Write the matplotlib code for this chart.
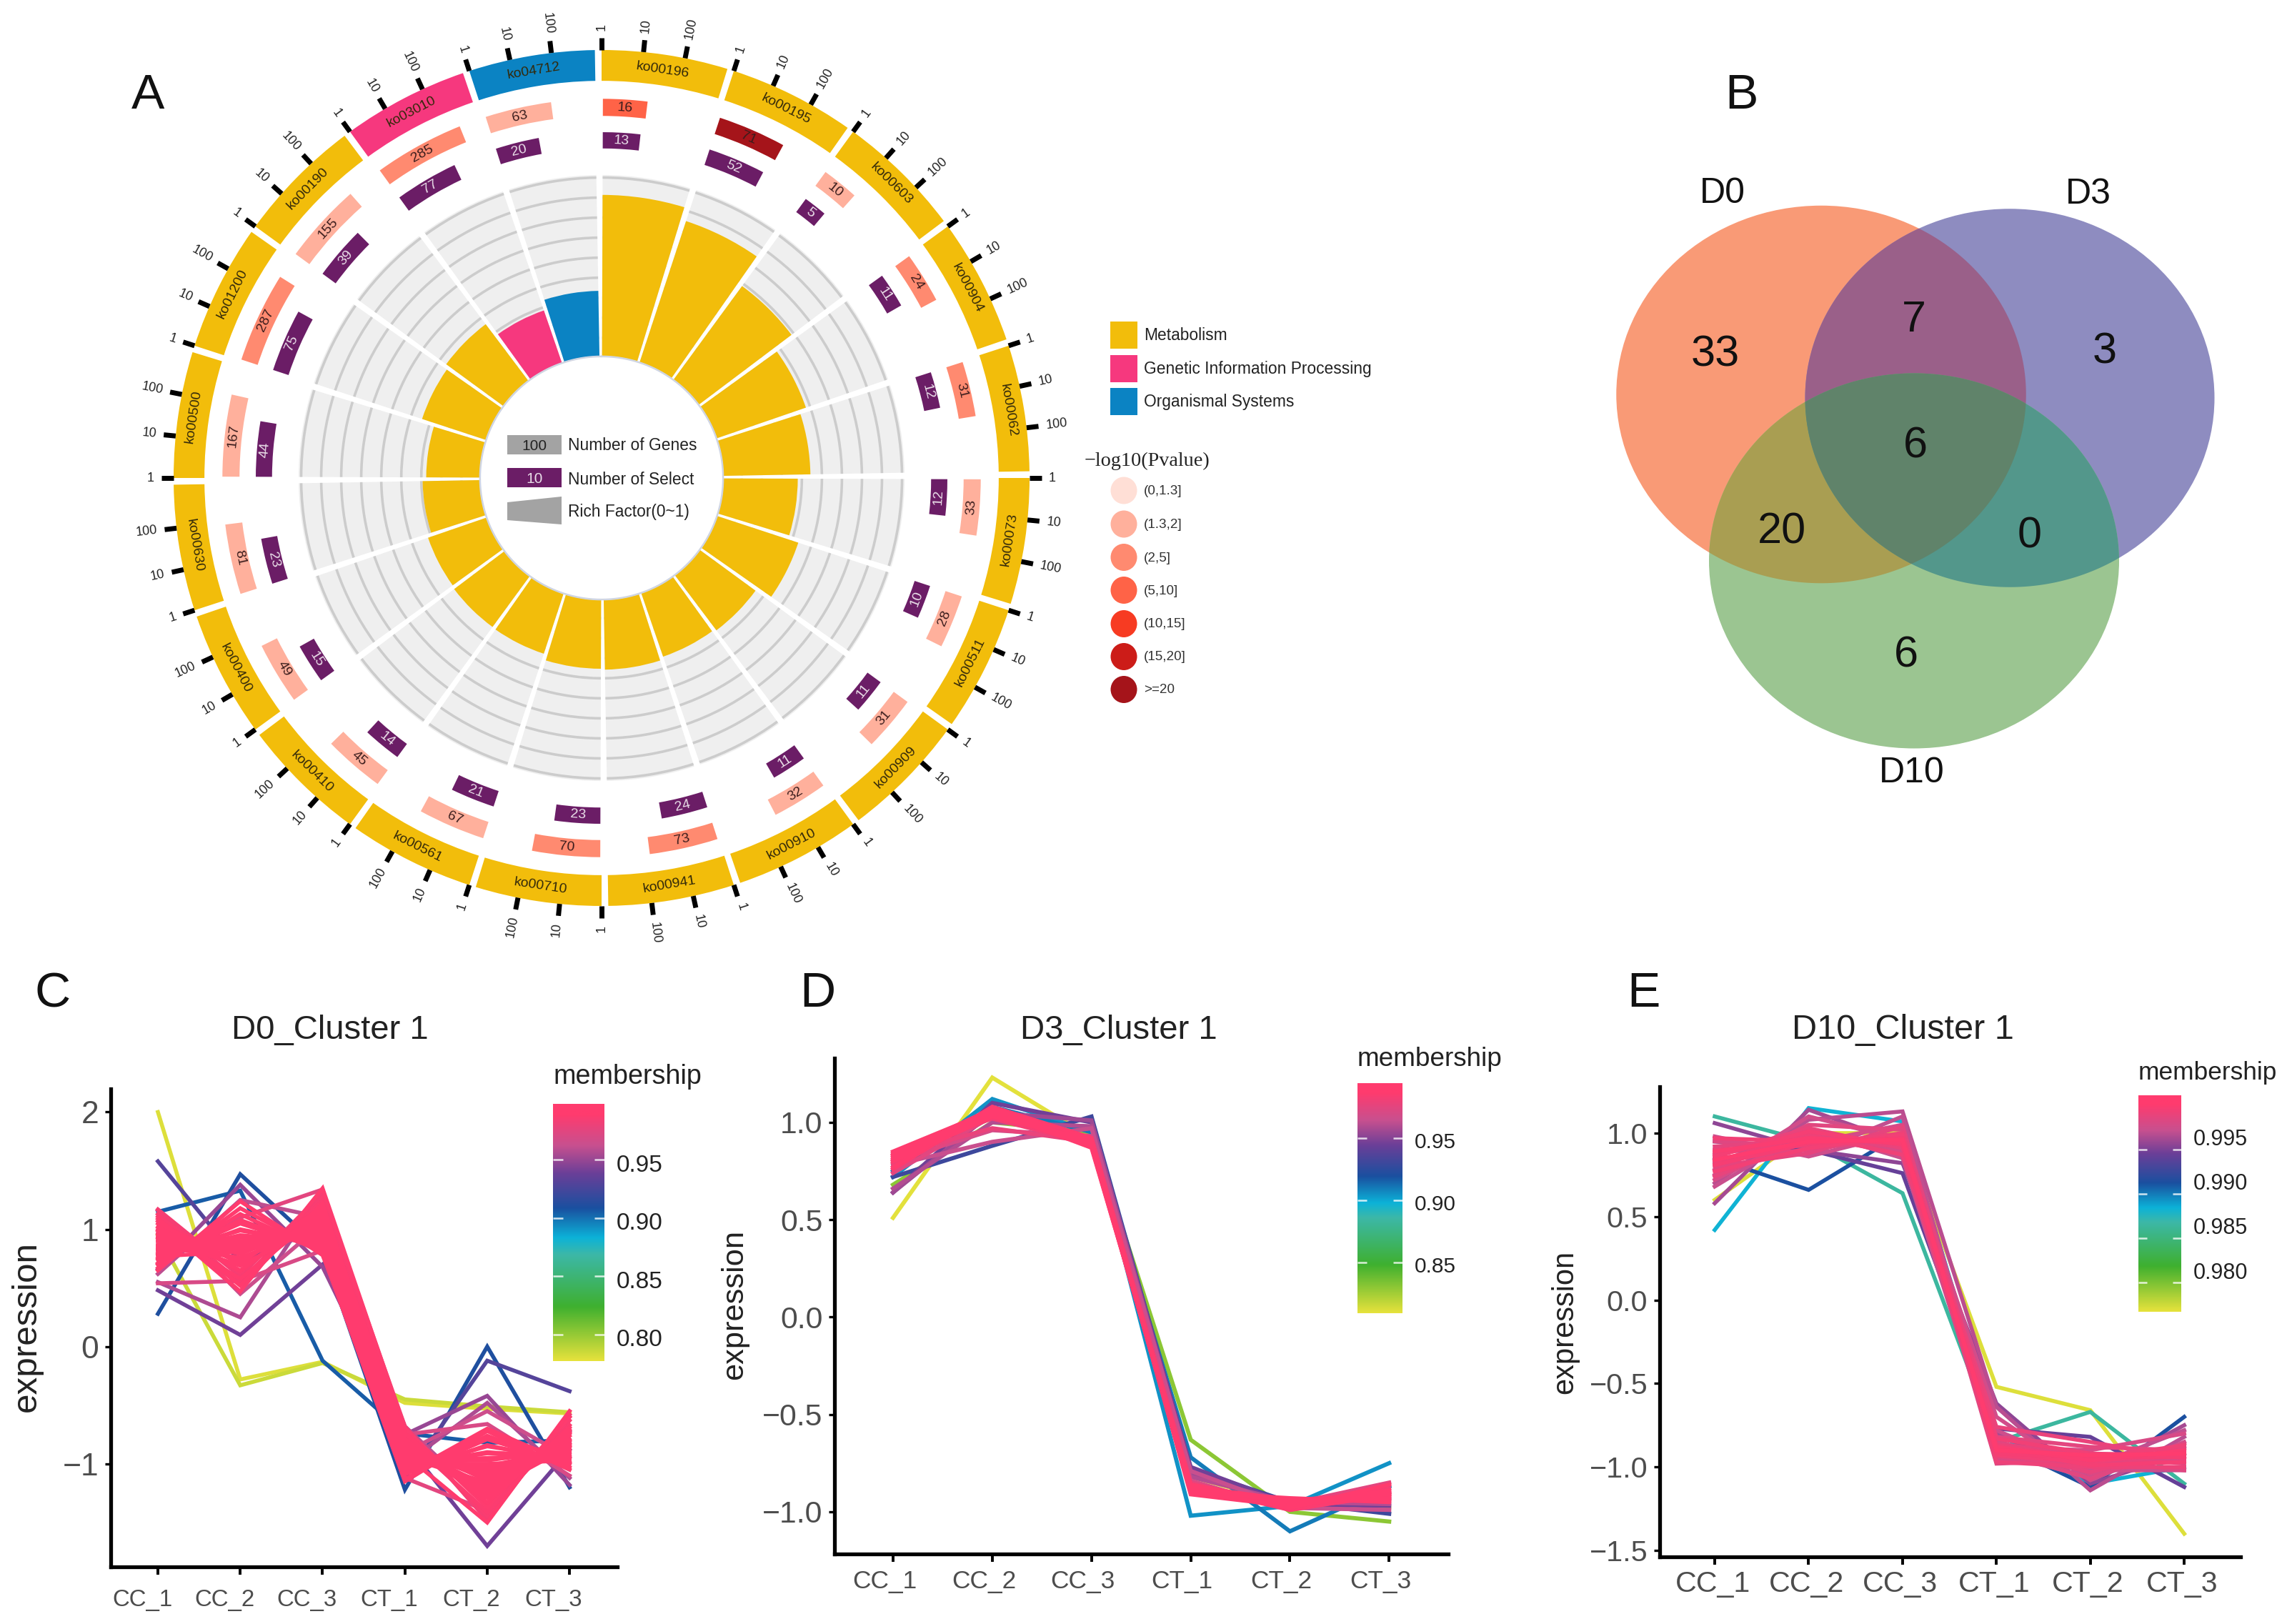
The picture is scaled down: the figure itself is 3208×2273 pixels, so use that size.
import numpy as np
import matplotlib
matplotlib.use("Agg")
import matplotlib.pyplot as plt
from matplotlib.colors import LinearSegmentedColormap, Normalize
from matplotlib.patches import Ellipse, Polygon, Rectangle
from matplotlib.transforms import ScaledTranslation

plt.rcParams["font.family"] = ["Liberation Sans", "DejaVu Sans"]

W, H = 3208, 2273
DPI = 200

# ---- panel A data
pathways = ["ko00196", "ko00195", "ko00603", "ko00904", "ko00062",
            "ko00073", "ko00511", "ko00909", "ko00910", "ko00941",
            "ko00710", "ko00561", "ko00410", "ko00400", "ko00630",
            "ko00500", "ko01200", "ko00190", "ko03010", "ko04712"]
groups = [0] * 18 + [1, 2]
genes = [16, 71, 10, 24, 31, 33, 28, 31, 32, 73,
         70, 67, 45, 49, 81, 167, 287, 155, 285, 63]
selected = [13, 52, 5, 11, 12, 12, 10, 11, 11, 24,
            23, 21, 14, 15, 23, 44, 75, 39, 77, 20]
pvalue_class = [3, 6, 1, 2, 2, 1, 1, 1, 1, 2,
                2, 1, 1, 1, 1, 1, 2, 1, 2, 1]
rich_factor = [0.89, 0.82, 0.64, 0.52, 0.48, 0.41, 0.47, 0.38, 0.37, 0.385,
               0.38, 0.348, 0.346, 0.34, 0.315, 0.295, 0.37, 0.39, 0.305, 0.36]
group_names = ["Metabolism", "Genetic Information Processing", "Organismal Systems"]
group_colors = ["#f2bd0b", "#f6387e", "#0b83c3"]
pvalue_labels = ["(0,1.3]", "(1.3,2]", "(2,5]", "(5,10]", "(10,15]", "(15,20]", ">=20"]
pvalue_colors = ["#ffdfd6", "#ffb09c", "#ff8a70", "#ff6347", "#f73b22", "#cc1c18", "#a5141a"]

# ---- panel B data
venn_names = ["D0", "D3", "D10"]
venn_counts = [33, 7, 3, 6, 20, 0, 6]

# ---- panels C, D, E data
samples = ["CC_1", "CC_2", "CC_3", "CT_1", "CT_2", "CT_3"]

d0_members = [0.78, 0.785, 0.905, 0.91, 0.93, 0.94, 0.95, 0.955, 0.96, 0.965, 0.97, 0.975,
              0.985, 0.986, 0.987, 0.988, 0.989, 0.99, 0.99, 0.991, 0.991, 0.992,
              0.992, 0.993, 0.993, 0.994, 0.994, 0.995, 0.995, 0.995, 0.996, 0.996,
              0.996, 0.996, 0.997, 0.997, 0.997, 0.997, 0.997, 0.998, 0.998, 0.998]
d0_lines = [
    [2.00, -0.28, -0.13, -0.48, -0.53, -0.57],
    [0.95, -0.33, -0.14, -0.45, -0.51, -0.56],
    [1.15, 1.33, -0.12, -0.74, -0.82, -0.80],
    [0.28, 1.47, 0.82, -1.22, 0.00, -1.20],
    [1.58, 0.72, 1.02, -1.12, -0.12, -0.38],
    [0.48, 0.10, 0.70, -0.82, -1.70, -0.88],
    [0.66, 1.38, 0.68, -0.75, -0.42, -1.18],
    [0.55, 0.25, 1.32, -1.00, -0.48, -1.12],
    [0.62, 1.25, 1.10, -0.68, -1.34, -0.72],
    [1.16, 0.45, 1.05, -0.90, -0.55, -0.95],
    [0.54, 0.56, 0.82, -0.75, -0.66, -1.10],
    [0.70, 1.10, 1.34, -1.12, -1.40, -0.60],
    [1.17, 0.60, 1.31, -0.68, -1.48, -0.58],
    [1.13, 0.55, 1.27, -0.73, -1.44, -0.63],
    [1.11, 0.63, 1.24, -0.77, -1.41, -0.67],
    [1.07, 0.47, 1.35, -0.70, -1.37, -0.60],
    [1.05, 0.71, 1.19, -0.83, -1.29, -0.71],
    [1.02, 0.65, 1.16, -0.79, -1.26, -0.73],
    [1.00, 0.73, 1.11, -0.86, -1.21, -0.76],
    [0.97, 0.74, 1.09, -0.85, -1.19, -0.74],
    [0.96, 0.79, 1.07, -0.83, -1.14, -0.79],
    [0.94, 0.80, 1.04, -0.89, -1.11, -0.80],
    [0.91, 0.83, 1.03, -0.90, -1.09, -0.83],
    [0.90, 0.85, 0.99, -0.93, -1.04, -0.84],
    [0.87, 0.86, 0.97, -0.95, -1.02, -0.87],
    [0.86, 0.89, 0.96, -0.97, -0.97, -0.88],
    [0.83, 0.90, 0.93, -0.98, -0.95, -0.91],
    [0.82, 0.93, 0.92, -1.01, -0.91, -0.92],
    [0.79, 0.95, 0.89, -1.02, -0.90, -0.95],
    [0.78, 0.99, 0.87, -1.05, -0.85, -0.96],
    [0.75, 1.00, 0.86, -1.08, -0.84, -0.99],
    [0.74, 1.05, 0.83, -1.09, -0.79, -1.00],
    [0.71, 1.08, 0.82, -1.13, -0.76, -1.03],
    [0.70, 1.13, 0.80, -1.15, -0.72, -1.05],
    [0.67, 1.18, 0.81, -1.09, -0.70, -1.00],
    [0.65, 1.24, 0.78, -1.04, -0.78, -0.94],
    [1.09, 0.52, 1.22, -0.92, -1.50, -0.55],
    [0.99, 0.58, 1.14, -0.74, -1.33, -0.69],
    [0.93, 0.69, 1.06, -0.81, -1.23, -0.85],
    [0.85, 0.76, 1.01, -0.94, -1.16, -0.82],
    [0.81, 0.87, 0.94, -0.87, -1.06, -0.90],
    [0.77, 0.81, 0.98, -1.00, -1.00, -0.97],
]

d3_members = [0.81, 0.83, 0.905, 0.91, 0.93, 0.945, 0.955, 0.96, 0.965, 0.97,
              0.975, 0.978, 0.98, 0.983, 0.985, 0.987, 0.989, 0.99, 0.992, 0.993, 0.994]
d3_lines = [
    [0.51, 1.23, 0.92, -0.82, -0.96, -0.98],
    [0.68, 1.00, 0.95, -0.63, -1.00, -1.05],
    [0.72, 1.12, 0.95, -1.02, -0.97, -0.75],
    [0.75, 1.08, 0.95, -0.72, -1.10, -0.87],
    [0.72, 0.88, 1.03, -0.78, -0.95, -1.01],
    [0.64, 1.10, 1.00, -0.77, -0.96, -0.97],
    [0.64, 1.05, 1.01, -0.80, -0.97, -0.93],
    [0.66, 1.00, 0.98, -0.82, -0.95, -0.96],
    [0.78, 0.90, 0.97, -0.79, -0.98, -0.99],
    [0.80, 0.96, 0.93, -0.84, -0.99, -0.90],
    [0.74, 1.03, 0.92, -0.86, -0.96, -0.85],
    [0.83, 0.97, 0.90, -0.85, -0.98, -0.92],
    [0.79, 1.06, 0.91, -0.88, -0.94, -0.94],
    [0.84, 1.02, 0.89, -0.89, -0.97, -0.88],
    [0.76, 1.07, 0.88, -0.87, -0.99, -0.91],
    [0.81, 1.04, 0.90, -0.90, -0.93, -0.95],
    [0.85, 1.06, 0.87, -0.86, -0.96, -0.89],
    [0.77, 1.08, 0.92, -0.89, -0.98, -0.86],
    [0.82, 1.05, 0.88, -0.88, -0.95, -0.93],
    [0.80, 1.03, 0.91, -0.91, -0.97, -0.90],
    [0.83, 1.07, 0.89, -0.87, -0.94, -0.91],
]

d10_members = [0.977, 0.9865, 0.9883, 0.9912, 0.9943, 0.9955, 0.9962, 0.9968, 0.997, 0.9972,
               0.9974, 0.9976, 0.9978, 0.998, 0.9982, 0.9984, 0.9985, 0.9986, 0.9987, 0.9988,
               0.9989, 0.999, 0.9991, 0.9992, 0.9993, 0.9994, 0.9995, 0.9996, 0.9998, 1.0]
d10_lines = [
    [0.60, 1.00, 1.00, -0.52, -0.66, -1.40],
    [1.10, 0.95, 0.64, -0.85, -0.67, -1.10],
    [0.42, 1.15, 1.07, -0.80, -1.10, -1.00],
    [0.85, 0.66, 1.00, -0.85, -1.12, -0.70],
    [0.95, 0.90, 0.76, -0.77, -0.82, -1.12],
    [1.06, 0.90, 0.82, -0.62, -1.10, -0.92],
    [0.58, 1.14, 0.94, -0.80, -1.05, -0.75],
    [0.70, 1.08, 1.13, -0.64, -1.14, -0.82],
    [0.90, 0.87, 1.10, -0.85, -1.00, -0.78],
    [0.68, 1.02, 0.85, -0.92, -1.06, -0.88],
    [0.98, 0.86, 1.00, -0.78, -1.02, -1.02],
    [0.75, 1.10, 0.96, -0.70, -1.08, -0.85],
    [0.82, 0.94, 1.05, -0.96, -0.94, -0.96],
    [0.72, 1.00, 0.90, -0.88, -0.90, -0.80],
    [0.88, 0.98, 0.88, -0.84, -1.04, -0.94],
    [0.95, 0.92, 0.94, -0.98, -0.96, -1.02],
    [0.78, 1.05, 1.02, -0.90, -1.07, -0.86],
    [0.85, 0.90, 0.98, -0.82, -0.88, -0.90],
    [0.92, 0.96, 0.92, -0.94, -0.98, -0.92],
    [0.80, 0.88, 1.04, -0.86, -0.93, -0.98],
    [0.74, 0.97, 0.96, -0.91, -1.03, -0.89],
    [0.87, 1.03, 0.91, -0.76, -0.85, -0.95],
    [0.90, 0.93, 1.00, -0.97, -1.00, -1.00],
    [0.83, 0.99, 0.87, -0.87, -0.95, -0.87],
    [0.97, 0.95, 0.95, -0.83, -0.92, -0.93],
    [0.77, 0.91, 0.99, -0.93, -0.97, -0.91],
    [0.86, 1.01, 0.93, -0.89, -0.99, -0.97],
    [0.81, 0.94, 0.97, -0.92, -0.94, -0.94],
    [0.89, 0.97, 0.94, -0.88, -0.96, -0.90],
    [0.84, 0.95, 0.96, -0.90, -0.93, -0.92],
]

# colours of the membership scale, low to high
member_cmap = LinearSegmentedColormap.from_list("membership", [
    (0.00, "#e6e23c"), (0.21, "#3fb02f"), (0.415, "#3cb8a8"), (0.48, "#0cb2d8"),
    (0.595, "#1a50a0"), (0.73, "#6a3f98"), (0.84, "#c8508f"), (0.96, "#ff3b6e"),
    (1.00, "#ff3b6e")])


def px_rect(x0, y0, x1, y1):
    return [x0 / W, 1 - y1 / H, (x1 - x0) / W, (y1 - y0) / H]


fig = plt.figure(figsize=(W / DPI, H / DPI), dpi=DPI)

# ---- panel A, circular plot
cx, cy, R = 842, 669, 599
scale = 1.1
polar = fig.add_axes(px_rect(cx - R * scale, cy - R * scale, cx + R * scale, cy + R * scale),
                     projection="polar")
polar.set_theta_zero_location("N")
polar.set_theta_direction(-1)
polar.set_ylim(0, scale)
polar.axis("off")

STEP = 18.0
SECTOR = 17.1
INNER = 16.8
DECADE = 5.63


def upright(theta):
    return -theta if (theta < 90 or theta > 270) else 180 - theta


for i, name in enumerate(pathways):
    start = i * STEP
    t0 = np.radians(start)
    col = group_colors[groups[i]]
    # outer ring
    polar.bar(t0, 0.072, width=np.radians(SECTOR), bottom=0.928, align="edge", color=col, lw=0)
    mid = start + SECTOR / 2
    polar.text(np.radians(mid), 0.964, name, fontsize=7, color="#33290a", ha="center", va="center",
               rotation=upright(mid), rotation_mode="anchor")
    # log scale ticks
    for k, lab in enumerate(["1", "10", "100"]):
        a = start + k * DECADE
        polar.plot([np.radians(a)] * 2, [1.0, 1.028], color="black", lw=2.5, solid_capstyle="butt")
        if a < 180:
            rot, ha = 90 - a, "left"
        else:
            rot, ha = 270 - a, "right"
        polar.text(np.radians(a), 1.045, lab, fontsize=6.5, color="#222222", ha=ha, va="center",
                   rotation=rot, rotation_mode="anchor")
    # number of genes
    w = np.log10(genes[i]) * DECADE
    polar.bar(np.radians(start + 0.2), 0.04, width=np.radians(w), bottom=0.846, align="edge",
              color=pvalue_colors[pvalue_class[i]], lw=0)
    a = start + 0.2 + w / 2
    polar.text(np.radians(a), 0.866, str(genes[i]), fontsize=7, color="#3a1d1d", ha="center", va="center",
               rotation=upright(a), rotation_mode="anchor")
    # number of selected
    w = np.log10(selected[i]) * DECADE
    polar.bar(np.radians(start + 0.2), 0.038, width=np.radians(w), bottom=0.77, align="edge",
              color="#6b1d66", lw=0)
    a = start + 0.2 + w / 2
    polar.text(np.radians(a), 0.789, str(selected[i]), fontsize=7, color="#eadfe9", ha="center", va="center",
               rotation=upright(a), rotation_mode="anchor")
    # grey background with rings
    t1 = np.radians(start + 0.2)
    wid = np.radians(INNER)
    polar.bar(t1, 0.423, width=wid, bottom=0.285, align="edge", color="#efefef", lw=0)
    for r in np.arange(0.705, 0.30, -0.0468):
        polar.bar(t1, 0.006, width=wid, bottom=r - 0.006, align="edge", color="#cccccc", lw=0)
    # rich factor
    polar.bar(t1, rich_factor[i] * 0.423, width=wid, bottom=0.285, align="edge", color=col, lw=0)

# thin edge of the centre hole
polar.plot(np.linspace(0, 2 * np.pi, 361), np.full(361, 0.284), color="#cfd5e2", lw=0.9)

# ---- page overlay in pixel coordinates
pg = fig.add_axes([0, 0, 1, 1], zorder=5)
pg.set_xlim(0, W)
pg.set_ylim(H, 0)
pg.axis("off")
pg.patch.set_alpha(0)

for lab, x, y in [("A", 207, 134), ("B", 2437, 134), ("C", 74, 1391), ("D", 1144, 1391), ("E", 2300, 1391)]:
    pg.text(x, y, lab, fontsize=25, ha="center", va="center", color="#111111")

# legend in the middle of the circle
pg.add_patch(Rectangle((710, 609), 76, 27, color="#a3a3a3", lw=0))
pg.text(748, 624, "100", fontsize=7.5, ha="center", va="center", color="#222222")
pg.add_patch(Rectangle((710, 655), 76, 27, color="#6b1d66", lw=0))
pg.text(748, 670, "10", fontsize=7.5, ha="center", va="center", color="#e8dde8")
pg.add_patch(Polygon([(710, 703), (786, 695), (786, 734), (710, 728)], color="#a3a3a3", lw=0))
for lab, y in [("Number of Genes", 624), ("Number of Select", 671), ("Rich Factor(0~1)", 717)]:
    pg.text(795, y, lab, fontsize=8.2, va="center", color="#222222")

# legends on the right of the circle
for name, col, y0 in zip(group_names, group_colors, [450, 497, 543]):
    pg.add_patch(Rectangle((1554, y0), 38, 38, color=col, lw=0))
    pg.text(1601, y0 + 20, name, fontsize=8.2, va="center", color="#222222")
pg.text(1518, 645, "\u2212log10(Pvalue)", fontsize=10.2, va="center", family="Liberation Serif", color="#222222")
for lab, col, y in zip(pvalue_labels, pvalue_colors, [686.5, 733.5, 780, 826, 873, 919, 965]):
    pg.add_patch(Ellipse((1573, y), 37, 38, color=col, lw=0))
    pg.text(1601, y + 1, lab, fontsize=6.8, va="center", color="#333333")

# ---- panel B, venn diagram
venn_shapes = [(2549, 552, 573.5, 528.5), (2813, 557, 573, 529.5), (2679, 785, 574, 525)]
venn_fill = {(0,): "#f99a76", (1,): "#8e8cc0", (2,): "#9bc591",
             (0, 1): "#9a6089", (0, 2): "#a99e52", (1, 2): "#53978b", (0, 1, 2): "#60836a"}


def inside(shape, x, y):
    ex, ey, ew, eh = shape
    return ((x - ex) / (ew / 2)) ** 2 + ((y - ey) / (eh / 2)) ** 2 <= 1.0001


def overlap(ids):
    # outline of the (convex) overlap of some ellipses
    t = np.linspace(0, 2 * np.pi, 1500)
    xs, ys = [], []
    for i in ids:
        ex, ey, ew, eh = venn_shapes[i]
        x = ex + ew / 2 * np.cos(t)
        y = ey + eh / 2 * np.sin(t)
        keep = np.ones_like(t, dtype=bool)
        for j in ids:
            if j != i:
                keep &= inside(venn_shapes[j], x, y)
        xs.append(x[keep])
        ys.append(y[keep])
    xs, ys = np.concatenate(xs), np.concatenate(ys)
    order = np.argsort(np.arctan2(ys - ys.mean(), xs - xs.mean()))
    return np.column_stack([xs[order], ys[order]])


for ids, col in venn_fill.items():
    if len(ids) == 1:
        ex, ey, ew, eh = venn_shapes[ids[0]]
        pg.add_patch(Ellipse((ex, ey), ew, eh, color=col, lw=0))
for ids, col in venn_fill.items():
    if len(ids) > 1:
        pg.add_patch(Polygon(overlap(ids), color=col, lw=0))

for lab, x, y in zip(venn_names, [2411, 2923, 2676], [271, 272, 1082]):
    pg.text(x, y, lab, fontsize=18, ha="center", va="center", color="#111111")
count_pos = [(2401, 497), (2679, 449), (2946, 493), (2681, 625), (2494, 745), (2841, 751), (2668, 918)]
for n, (x, y) in zip(venn_counts, count_pos):
    pg.text(x, y, str(n), fontsize=22, ha="center", va="center", color="#111111")


# ---- panels C, D, E, line plots
def cluster_panel(lines, members, rect, xlim, ylim, yticks, vlim, cbar_rect, cticks, cfmt, style):
    ax = fig.add_axes(px_rect(*rect))
    norm = Normalize(*vlim)
    order = np.argsort(members)
    for i in order:
        ax.plot(range(len(samples)), lines[i], color=member_cmap(norm(members[i])),
                lw=style["lw"], solid_joinstyle="miter", zorder=2)
    ax.set_xlim(*xlim)
    ax.set_ylim(*ylim)
    ax.set_xticks(range(len(samples)))
    ax.set_xticklabels(samples)
    ax.set_yticks(yticks)
    ax.set_yticklabels([style["yfmt"].format(v).replace("-", "\u2212") for v in yticks])
    ax.tick_params(axis="x", labelsize=style["xsize"], labelcolor="#4d4d4d", length=4, width=1.4, pad=style["xpad"])
    ax.tick_params(axis="y", labelsize=style["ysize"], labelcolor="#4d4d4d", length=3, width=1.2, pad=3)
    for side in ["top", "right"]:
        ax.spines[side].set_visible(False)
    for side in ["left", "bottom"]:
        ax.spines[side].set_linewidth(1.9)
    shift = ScaledTranslation(style["xshift"] / DPI, 0, fig.dpi_scale_trans)
    for lbl in ax.get_xticklabels():
        lbl.set_transform(lbl.get_transform() + shift)

    cax = fig.add_axes(px_rect(*cbar_rect))
    grad = np.linspace(0, 1, 256).reshape(-1, 1)
    cax.imshow(grad, aspect="auto", origin="lower", cmap=member_cmap,
               extent=[0, 1, vlim[0], vlim[1]])
    cax.hlines(cticks, 0, 0.2, color="white", lw=0.9, alpha=0.8)
    cax.hlines(cticks, 0.8, 1, color="white", lw=0.9, alpha=0.8)
    cax.set_xticks([])
    cax.yaxis.tick_right()
    cax.set_yticks(cticks)
    cax.set_yticklabels([cfmt.format(v) for v in cticks])
    cax.tick_params(axis="y", length=0, labelsize=style["csize"], labelcolor="#222222", pad=style["cpad"])
    drop = ScaledTranslation(0, style["cdrop"] / DPI, fig.dpi_scale_trans)
    for lbl in cax.get_yticklabels():
        lbl.set_transform(lbl.get_transform() + drop)
    for s in cax.spines.values():
        s.set_visible(False)
    return ax


cluster_panel(d0_lines, d0_members, (155, 1524, 864, 2193), (-0.573, 5.58), (-1.878, 2.198), [-1, 0, 1, 2],
              (0.777, 0.998), (774, 1545, 846, 1905), [0.80, 0.85, 0.90, 0.95], "{:.2f}",
              dict(lw=2.0, yfmt="{:d}", xsize=11.9, ysize=16, xshift=-22, xpad=7, csize=12, cpad=6, cdrop=-4.5))
cluster_panel(d3_lines, d3_members, (1168, 1481, 2027, 2175), (-0.59, 5.595), (-1.2165, 1.33), [-1.0, -0.5, 0.0, 0.5, 1.0],
              (0.809, 0.994), (1900, 1516, 1963, 1838), [0.85, 0.90, 0.95], "{:.2f}",
              dict(lw=2.1, yfmt="{:.1f}", xsize=12.7, ysize=15.4, xshift=-12, xpad=4, csize=10.7, cpad=6, cdrop=-3))
cluster_panel(d10_lines, d10_members, (2323, 1521, 3136, 2179), (-0.586, 5.6), (-1.5385, 1.278), [-1.5, -1.0, -0.5, 0.0, 0.5, 1.0],
              (0.9767, 1.0011), (2993, 1533, 3053, 1836), [0.980, 0.985, 0.990, 0.995], "{:.3f}",
              dict(lw=2.0, yfmt="{:.1f}", xsize=14.8, ysize=14.9, xshift=-3, xpad=3, csize=11, cpad=6, cdrop=17))

# titles and axis text on the page
for txt, x, y, size in [("D0_Cluster 1", 462, 1442, 17), ("D3_Cluster 1", 1566, 1442, 17),
                        ("D10_Cluster 1", 2663, 1442, 17.5)]:
    pg.text(x, y, txt, fontsize=size, ha="center", va="center", color="#222222")
for x, y, size in [(37, 1857, 17.8), (1028, 1826, 15.6), (2190, 1850, 15)]:
    pg.text(x, y, "expression", fontsize=size, rotation=90, ha="center", va="center", color="#222222")
for x, y, size in [(774, 1507, 13.6), (1900, 1482, 13.3), (2993, 1501, 12.7)]:
    pg.text(x, y, "membership", fontsize=size, va="center", color="#222222")

fig.savefig("out.png", dpi=DPI, facecolor="white")
print("saved out.png")
